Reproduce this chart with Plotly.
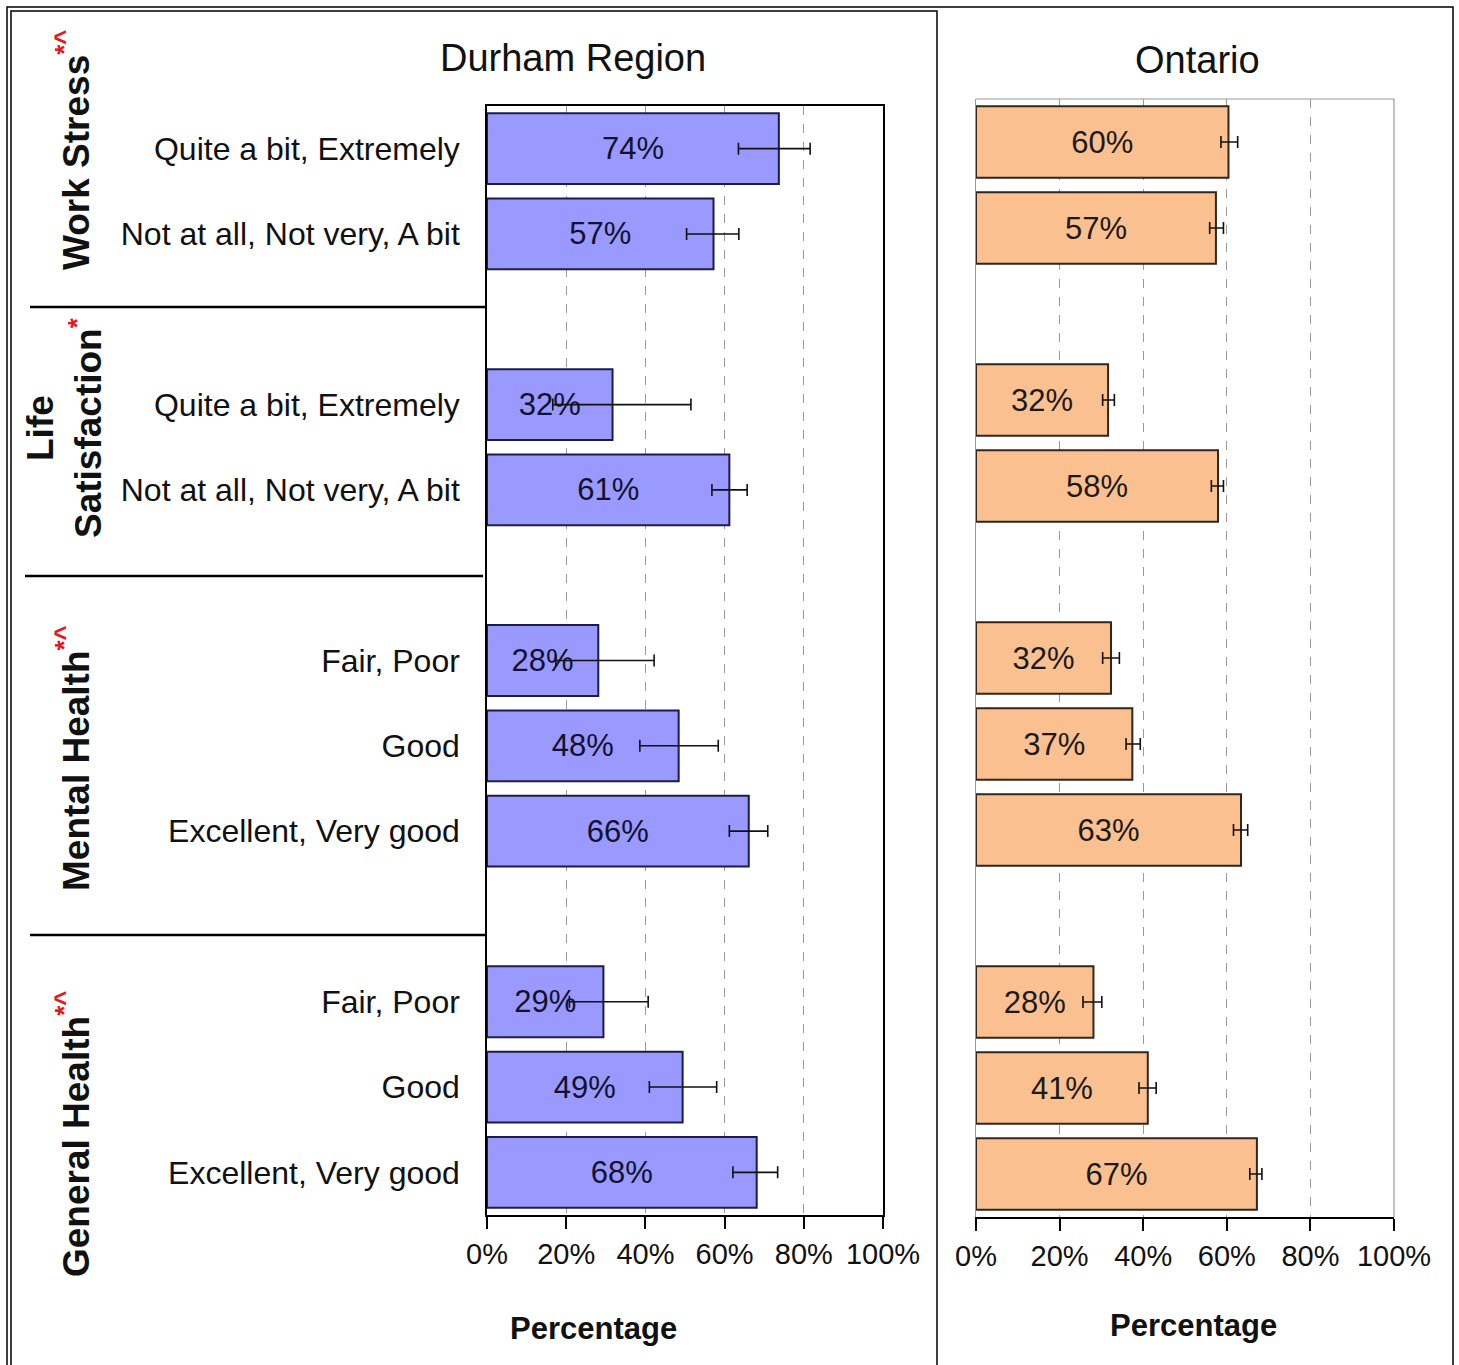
import plotly.graph_objects as go

# categories top to bottom, with the group each one belongs to
groups = ["Work Stress", "Life Satisfaction", "Mental Health", "General Health"]
group_of = [0, 0, 1, 1, 2, 2, 2, 3, 3, 3]
categories = ["Quite a bit, Extremely", "Not at all, Not very, A bit",
              "Quite a bit, Extremely", "Not at all, Not very, A bit",
              "Fair, Poor", "Good", "Excellent, Very good",
              "Fair, Poor", "Good", "Excellent, Very good"]

durham = [73.7, 57.2, 31.7, 61.2, 28.1, 48.4, 66.1, 29.4, 49.4, 68.1]
durham_lo = [63.5, 50.4, 16.6, 56.8, 17.4, 38.6, 61.2, 20.8, 41.0, 62.1]
durham_hi = [81.6, 63.6, 51.5, 65.7, 42.2, 58.4, 70.9, 40.7, 58.0, 73.4]

ontario = [60.4, 57.4, 31.6, 57.9, 32.3, 37.4, 63.4, 28.1, 41.1, 67.2]
ontario_lo = [58.6, 55.9, 30.3, 56.3, 30.3, 35.9, 61.6, 25.6, 39.0, 65.5]
ontario_hi = [62.6, 59.2, 33.1, 59.2, 34.3, 39.3, 65.0, 30.1, 43.1, 68.4]

x_ticks = [0, 20, 40, 60, 80, 100]

W, H = 1459, 1365
FONT = "Liberation Sans, Arial, sans-serif"

# one empty slot between groups
pos = [i + g for i, g in enumerate(group_of)]


def px(x):
    return x / W


def py(y):
    return 1 - y / H


fig = go.Figure()

fig.add_trace(go.Bar(
    y=pos, x=durham, orientation="h", width=0.83,
    marker=dict(color="#9999FF", line=dict(color="#1c1c4a", width=2)),
    text=[f"{v:.0f}%" for v in durham], textposition="inside",
    insidetextanchor="middle", textangle=0,
    textfont=dict(family=FONT, size=31, color="#12122e"),
    error_x=dict(type="data", symmetric=False,
                 array=[h - v for h, v in zip(durham_hi, durham)],
                 arrayminus=[v - l for l, v in zip(durham_lo, durham)],
                 color="#111", thickness=1.6, width=6),
    xaxis="x", yaxis="y", showlegend=False, hoverinfo="x+y",
))

fig.add_trace(go.Bar(
    y=pos, x=ontario, orientation="h", width=0.83,
    marker=dict(color="#FAC090", line=dict(color="#33261c", width=2)),
    text=[f"{v:.0f}%" for v in ontario], textposition="inside",
    insidetextanchor="middle", textangle=0,
    textfont=dict(family=FONT, size=31, color="#1a1a1a"),
    error_x=dict(type="data", symmetric=False,
                 array=[h - v for h, v in zip(ontario_hi, ontario)],
                 arrayminus=[v - l for l, v in zip(ontario_lo, ontario)],
                 color="#111", thickness=1.6, width=6),
    xaxis="x2", yaxis="y2", showlegend=False, hoverinfo="x+y",
))

xaxis_common = dict(
    range=[0, 100], tickvals=x_ticks, ticktext=[f"{t}%" for t in x_ticks],
    showgrid=True, gridcolor="#9a9a9a", griddash="dash", gridwidth=1,
    zeroline=False, showline=True, linecolor="black", linewidth=1.5,
    ticks="outside", ticklen=12, tickcolor="black", tickwidth=1.5,
    tickfont=dict(family=FONT, size=29, color="#111"), fixedrange=True,
    automargin=False,
)

fig.update_layout(
    width=W, height=H,
    margin=dict(l=0, r=0, t=0, b=0),
    plot_bgcolor="white", paper_bgcolor="white",
    font=dict(family=FONT, color="#111"),
    xaxis=dict(domain=[px(487), px(883)], anchor="y", mirror=True, **xaxis_common),
    yaxis=dict(domain=[py(1215), py(106)], anchor="x", range=[12.5, -0.5],
               tickvals=pos, ticktext=categories, ticks="",
               ticklabelstandoff=19, showline=True, linecolor="black",
               linewidth=1.5, mirror=True, showgrid=False, zeroline=False,
               automargin=False, fixedrange=True,
               tickfont=dict(family=FONT, size=32, color="#111")),
    xaxis2=dict(domain=[px(976), px(1394)], anchor="y2", **xaxis_common),
    yaxis2=dict(domain=[py(1217), py(99)], anchor="x2", range=[12.5, -0.5],
                showticklabels=False, ticks="", showline=True,
                linecolor="#9a9a9a", linewidth=1, showgrid=False,
                zeroline=False, automargin=False, fixedrange=True),
)

shapes = []
# Ontario frame top and right in grey
shapes.append(dict(type="line", xref="x2 domain", yref="y2 domain",
                   x0=0, x1=1, y0=1, y1=1, line=dict(color="#9a9a9a", width=1.2)))
shapes.append(dict(type="line", xref="x2 domain", yref="y2 domain",
                   x0=1, x1=1, y0=0, y1=1, line=dict(color="#9a9a9a", width=1.2)))
# separators between groups in the label column
for yy, xa, xb in [(307, 30, 487), (576, 25, 483), (935, 30, 487)]:
    shapes.append(dict(type="line", xref="paper", yref="paper",
                       x0=px(xa), x1=px(xb), y0=py(yy), y1=py(yy),
                       line=dict(color="black", width=2.5)))
# panel borders
shapes.append(dict(type="rect", xref="paper", yref="paper",
                   x0=px(7), x1=px(1453), y0=py(1380), y1=py(7),
                   line=dict(color="black", width=1.5)))
shapes.append(dict(type="rect", xref="paper", yref="paper",
                   x0=px(11), x1=px(937), y0=py(1380), y1=py(11),
                   line=dict(color="black", width=1.5)))
fig.update_layout(shapes=shapes)

annotations = [
    dict(text="Durham Region", x=px(573), y=py(58), size=38),
    dict(text="Ontario", x=px(1197), y=py(60), size=38),
    dict(text="<b>Percentage</b>", x=px(593), y=py(1328), size=31),
    dict(text="<b>Percentage</b>", x=px(1193), y=py(1325), size=31),
]
for a in annotations:
    fig.add_annotation(text=a["text"], x=a["x"], y=a["y"], xref="paper",
                       yref="paper", showarrow=False, xanchor="center",
                       yanchor="middle", font=dict(family=FONT, size=a["size"],
                                                   color="#111"))

red = "<span style='color:#e8151b'>"
group_labels = [
    (f"<b>Work Stress</b><sup>{red}<b>*^</b></span></sup>", 73, 150),
    (f"<b>Life<br>Satisfaction</b><sup>{red}<b>*</b></span></sup>", 64, 428),
    (f"<b>Mental Health</b><sup>{red}<b>*^</b></span></sup>", 73, 758),
    (f"<b>General Health</b><sup>{red}<b>*^</b></span></sup>", 73, 1134),
]
for txt, xx, yy in group_labels:
    fig.add_annotation(text=txt, x=px(xx), y=py(yy), xref="paper", yref="paper",
                       showarrow=False, textangle=-90, xanchor="center",
                       yanchor="middle", align="center",
                       font=dict(family=FONT, size=37, color="#111"))

fig.write_html("out.html", config={"displayModeBar": False},
               post_script="document.body.style.margin='0';")
